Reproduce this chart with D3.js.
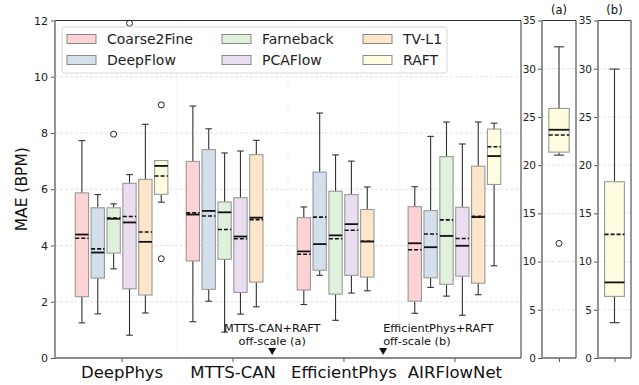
<!DOCTYPE html>
<html>
<head>
<meta charset="utf-8">
<script src="https://cdn.jsdelivr.net/npm/d3@7"></script>
<style>
  body { margin: 0; background: #fff; }
  svg { font-family: "DejaVu Sans", sans-serif; }
</style>
</head>
<body>
<div id="chart"></div>
<script>
// groups on the x axis and the optical-flow methods inside each group
const groups = ["DeepPhys", "MTTS-CAN", "EfficientPhys", "AIRFlowNet"];
const methods = ["Coarse2Fine", "DeepFlow", "Farneback", "PCAFlow", "TV-L1", "RAFT"];
const colors = ["#fdd3d5", "#d3e0ec", "#dff1da", "#e8deef", "#fde6ca", "#fffde0"];

// each row: [whiskerLow, q1, median, q3, whiskerHigh, mean] per group, null = not drawn
const coarse2fine = [[1.25, 2.18, 4.39, 5.87, 7.73, 4.26], [1.29, 3.45, 5.10, 6.99, 8.96, 5.16], [1.90, 2.42, 3.79, 4.99, 5.37, 3.69], [1.59, 2.02, 4.08, 5.38, 6.09, 3.85]];
const deepflow = [[1.57, 2.84, 3.75, 5.34, 5.81, 3.88], [2.02, 2.44, 5.23, 7.41, 8.15, 5.05], [2.94, 3.12, 4.05, 6.61, 8.71, 5.01], [2.51, 2.85, 3.94, 5.24, 7.88, 4.41]];
const farneback = [[3.17, 3.73, 4.95, 5.34, 5.48, 4.98], [0.92, 3.51, 5.18, 5.55, 7.29, 4.57], [1.34, 2.27, 4.36, 5.93, 7.22, 4.24], [2.20, 2.62, 4.34, 7.16, 8.39, 4.91]];
const pcaflow = [[0.81, 2.46, 4.82, 6.21, 6.52, 5.03], [1.56, 2.33, 4.32, 5.70, 7.36, 4.24], [2.31, 2.94, 4.76, 5.81, 7.00, 4.54], [1.52, 2.91, 3.99, 5.36, 7.61, 4.25]];
const tvl1 = [[1.60, 2.24, 4.13, 6.35, 8.31, 4.48], [1.82, 2.70, 4.99, 7.23, 7.74, 4.92], [2.39, 2.88, 4.14, 5.28, 6.08, 4.15], [2.25, 2.66, 5.01, 6.82, 8.39, 5.04]];
const raft = [[5.54, 5.82, 6.83, 7.02, 7.02, 6.47], null, null, [3.28, 6.17, 7.18, 8.14, 8.35, 7.51]];

// outliers: [groupIndex, methodIndex, value]
const outliers = [[0, 2, 7.96], [0, 3, 11.9], [0, 5, 9.0], [0, 5, 3.53]];

// off-scale RAFT boxes shown in the insets
const insetA = [21.04, 21.35, 23.67, 25.88, 32.27, 23.12];
const insetAOutliers = [11.88];
const insetB = [3.66, 6.39, 7.84, 18.28, 29.96, 12.82];
const insetBOutliers = [];

const yTicks = [0, 2, 4, 6, 8, 10, 12];
const insetTicks = [0, 5, 10, 15, 20, 25, 30, 35];

const allStats = [coarse2fine, deepflow, farneback, pcaflow, tvl1, raft];

const W = 639, H = 385;
const svg = d3.select("#chart").append("svg").attr("width", W).attr("height", H);

const plotTop = 20.5, plotBottom = 358;
const x = d3.scaleLinear().domain([-0.6, 3.6]).range([55, 521]);
const y = d3.scaleLinear().domain([0, 12]).range([plotBottom, plotTop]);
const step = 0.143, boxW = 0.12;

// grid
svg.append("g").selectAll("line").data(yTicks.slice(1, -1)).join("line")
  .attr("x1", x(-0.6)).attr("x2", x(3.6))
  .attr("y1", d => y(d)).attr("y2", d => y(d))
  .attr("stroke", "#dcdcdc").attr("stroke-width", 0.8).attr("stroke-dasharray", "3,2");
svg.append("g").selectAll("line").data([0.5, 1.5, 2.5]).join("line")
  .attr("x1", d => x(d)).attr("x2", d => x(d))
  .attr("y1", plotTop).attr("y2", plotBottom)
  .attr("stroke", "#dcdcdc").attr("stroke-width", 0.8).attr("stroke-dasharray", "1,2");

function drawBox(g, xs, ys, cx, half, s, fill) {
  const [lo, q1, med, q3, hi, mean] = s;
  const cap = half / 2;
  g.append("line").attr("x1", xs(cx)).attr("x2", xs(cx)).attr("y1", ys(hi)).attr("y2", ys(q3))
    .attr("stroke", "#333").attr("stroke-width", 1.1);
  g.append("line").attr("x1", xs(cx)).attr("x2", xs(cx)).attr("y1", ys(q1)).attr("y2", ys(lo))
    .attr("stroke", "#333").attr("stroke-width", 1.1);
  [lo, hi].forEach(v => g.append("line")
    .attr("x1", xs(cx - cap)).attr("x2", xs(cx + cap)).attr("y1", ys(v)).attr("y2", ys(v))
    .attr("stroke", "#333").attr("stroke-width", 1.1));
  g.append("rect")
    .attr("x", xs(cx - half)).attr("width", xs(cx + half) - xs(cx - half))
    .attr("y", ys(q3)).attr("height", ys(q1) - ys(q3))
    .attr("fill", fill).attr("stroke", "#999").attr("stroke-width", 1.1);
  g.append("line").attr("x1", xs(cx - half)).attr("x2", xs(cx + half)).attr("y1", ys(med)).attr("y2", ys(med))
    .attr("stroke", "#111").attr("stroke-width", 1.8);
  g.append("line").attr("x1", xs(cx - half)).attr("x2", xs(cx + half)).attr("y1", ys(mean)).attr("y2", ys(mean))
    .attr("stroke", "#111").attr("stroke-width", 1.6).attr("stroke-dasharray", "4,2");
}

const boxes = svg.append("g");
groups.forEach((gName, gi) => {
  methods.forEach((m, mi) => {
    const s = allStats[mi][gi];
    if (!s) return;
    drawBox(boxes, x, y, gi + (mi - 2.5) * step, boxW / 2, s, colors[mi]);
  });
});
boxes.selectAll("circle").data(outliers).join("circle")
  .attr("cx", d => x(d[0] + (d[1] - 2.5) * step)).attr("cy", d => y(d[2]))
  .attr("r", 3).attr("fill", "none").attr("stroke", "#222").attr("stroke-width", 1);

// axes
const yAxis = svg.append("g").attr("transform", `translate(${x(-0.6)},0)`)
  .call(d3.axisLeft(y).tickValues(yTicks).tickSize(4).tickPadding(3));
const xAxis = svg.append("g").attr("transform", `translate(0,${plotBottom})`)
  .call(d3.axisBottom(x).tickValues(d3.range(groups.length)).tickFormat(i => groups[i]).tickSize(4).tickPadding(4));
[yAxis, xAxis].forEach(a => {
  a.select(".domain").remove();
  a.selectAll(".tick line").attr("stroke", "#555");
  a.selectAll(".tick text").attr("fill", "#222").attr("font-family", "DejaVu Sans");
});
yAxis.selectAll(".tick text").attr("font-size", 11);
xAxis.selectAll(".tick text").attr("font-size", 16.5).attr("fill", "#111");

function spines(x0, x1) {
  svg.append("line").attr("x1", x0).attr("x2", x1).attr("y1", plotTop).attr("y2", plotTop).attr("stroke", "#333").attr("stroke-width", 1);
  svg.append("line").attr("x1", x1).attr("x2", x1).attr("y1", plotTop).attr("y2", plotBottom).attr("stroke", "#333").attr("stroke-width", 1);
  svg.append("line").attr("x1", x0).attr("x2", x1).attr("y1", plotBottom).attr("y2", plotBottom).attr("stroke", "#666").attr("stroke-width", 1.4);
  svg.append("line").attr("x1", x0).attr("x2", x0).attr("y1", plotTop).attr("y2", plotBottom).attr("stroke", "#888").attr("stroke-width", 1.8);
}
spines(x(-0.6), x(3.6));

svg.append("text").attr("transform", `translate(22,${(plotTop + plotBottom) / 2}) rotate(-90)`)
  .attr("text-anchor", "middle").attr("dominant-baseline", "middle")
  .attr("font-size", 15.5).attr("fill", "#111").text("MAE (BPM)");

// off-scale annotations
function offScale(gi, lines, anchor) {
  const cx = x(gi + 2.5 * step);
  const t = svg.append("text").attr("font-size", 11.3).attr("fill", "#111").attr("text-anchor", anchor);
  lines.forEach((l, i) => t.append("tspan").attr("x", cx).attr("y", 332 + i * 13.2).text(l));
  const ty = y(0.23);
  svg.append("path").attr("d", `M${cx - 4},${ty - 3.5}L${cx + 4},${ty - 3.5}L${cx},${ty + 3.5}Z`).attr("fill", "#111");
}
offScale(1, ["MTTS-CAN+RAFT", "off-scale (a)"], "middle");
offScale(2, ["EfficientPhys+RAFT", "off-scale (b)"], "start");

// legend
const lg = svg.append("g");
lg.append("rect").attr("x", 62).attr("y", 27).attr("width", 385).attr("height", 46).attr("rx", 3)
  .attr("fill", "#fff").attr("fill-opacity", 0.85).attr("stroke", "#d8d8d8");
const colX = [67, 222, 363];
methods.forEach((m, i) => {
  const cx = colX[Math.floor(i / 2)], cy = 39 + (i % 2) * 21;
  lg.append("rect").attr("x", cx).attr("y", cy - 4.5).attr("width", 29).attr("height", 9)
    .attr("fill", colors[i]).attr("stroke", "#888").attr("stroke-width", 1);
  lg.append("text").attr("x", cx + 40).attr("y", cy).attr("dominant-baseline", "central")
    .attr("font-size", 14).attr("fill", "#222").text(m);
});

// insets
function inset(x0, x1, label, s, outs) {
  const xi = d3.scaleLinear().domain([-0.5, 0.5]).range([x0, x1]);
  const yi = d3.scaleLinear().domain([0, 35]).range([plotBottom, plotTop]);
  const g = svg.append("g");
  g.selectAll("line").data(insetTicks.slice(1, -1)).join("line")
    .attr("x1", x0).attr("x2", x1).attr("y1", d => yi(d)).attr("y2", d => yi(d))
    .attr("stroke", "#dcdcdc").attr("stroke-width", 0.8).attr("stroke-dasharray", "3,2");
  drawBox(g, xi, yi, 0, 0.3, s, colors[5]);
  outs.forEach(v => g.append("circle").attr("cx", xi(0)).attr("cy", yi(v)).attr("r", 3)
    .attr("fill", "none").attr("stroke", "#222").attr("stroke-width", 1));
  const ya = svg.append("g").attr("transform", `translate(${x0},0)`)
    .call(d3.axisLeft(yi).tickValues(insetTicks).tickSize(4).tickPadding(2));
  const xa = svg.append("g").attr("transform", `translate(0,${plotBottom})`)
    .call(d3.axisBottom(xi).tickValues([0]).tickFormat("").tickSize(4));
  [ya, xa].forEach(a => {
    a.select(".domain").remove();
    a.selectAll(".tick line").attr("stroke", "#555");
  });
  ya.selectAll(".tick text").attr("font-size", 10.5).attr("fill", "#222").attr("font-family", "DejaVu Sans");
  spines(x0, x1);
  svg.append("text").attr("x", (x0 + x1) / 2).attr("y", 13.5).attr("text-anchor", "middle")
    .attr("font-size", 11.5).attr("fill", "#111").text(label);
}
inset(542, 576, "(a)", insetA, insetAOutliers);
inset(598, 631, "(b)", insetB, insetBOutliers);
</script>
</body>
</html>
